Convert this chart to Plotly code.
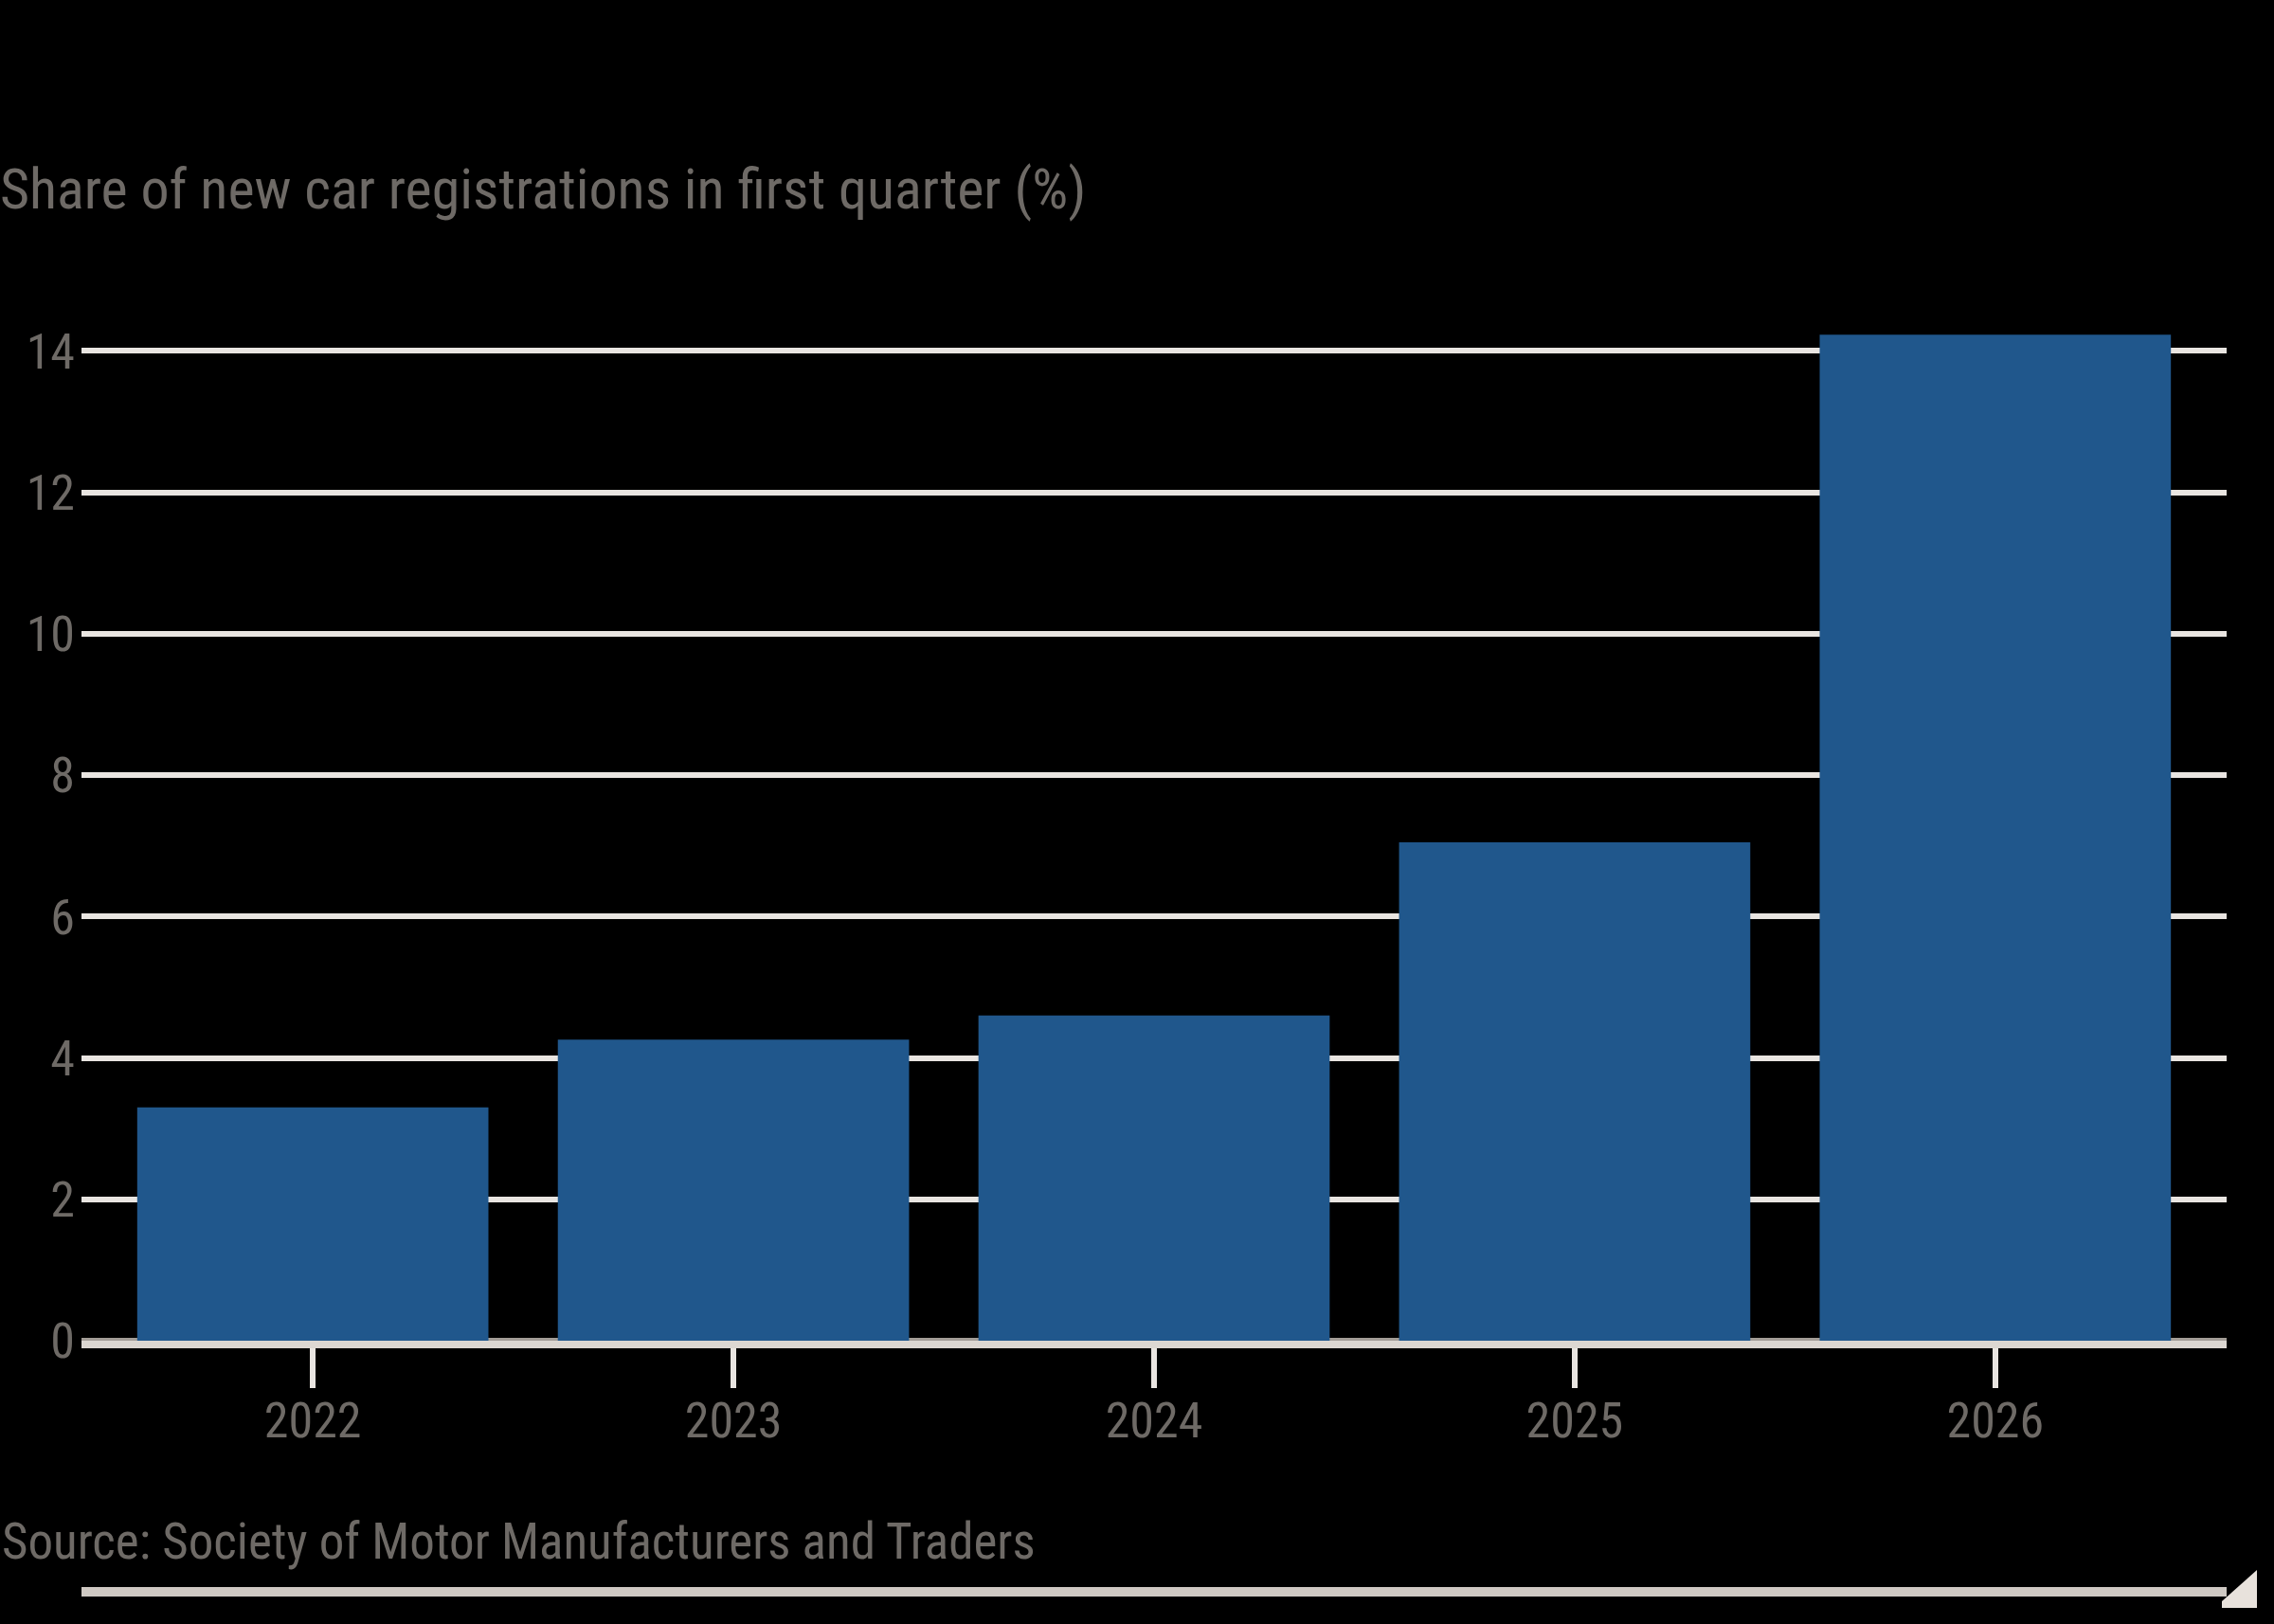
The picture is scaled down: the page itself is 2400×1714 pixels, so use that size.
import plotly.graph_objects as go

years = ["2022", "2023", "2024", "2025", "2026"]
share = [3.3, 4.26, 4.6, 7.05, 14.23]
y_ticks = [0, 2, 4, 6, 8, 10, 12, 14]

title_text = "Share of new car registrations in first quarter (%)"
source_text = "Source: Society of Motor Manufacturers and Traders"

W, H = 2400, 1714
L, R, T, B = 86, 50, 348, 299
pw = W - L - R
ph = H - T - B

FONT = "Liberation Sans Narrow, Arial Narrow, Roboto Condensed, sans-serif"
TXT = "#6e6a66"
GRID = "#e9e5e1"

fig = go.Figure(go.Bar(
    x=years, y=share,
    marker=dict(color="#20578c", line=dict(width=0)),
))

def px_x(p):
    return (p - L) / pw

def px_y(p):
    return (H - B - p) / ph

fig.update_layout(
    width=W, height=H,
    paper_bgcolor="black", plot_bgcolor="black",
    margin=dict(l=L, r=R, t=T, b=B),
    bargap=0.165,
    showlegend=False,
    font=dict(family=FONT, color=TXT, size=52),
    title=dict(text=title_text, x=0, xref="container", xanchor="left",
               y=1 - 199 / H, yref="container", yanchor="middle",
               font=dict(family=FONT, size=60, color=TXT)),
    xaxis=dict(
        type="category", range=[-0.55, 4.55],
        showgrid=False, zeroline=False,
        showline=True, linecolor="#dcd7d2", linewidth=8,
        ticks="outside", ticklen=42, tickwidth=6, tickcolor=GRID,
        ticklabelstandoff=-10,
        tickfont=dict(size=52, color=TXT, family=FONT),
    ),
    yaxis=dict(
        range=[0, 14.3], tickvals=y_ticks,
        showgrid=True, gridcolor=GRID, gridwidth=6,
        zeroline=True, zerolinecolor="#a39d97", zerolinewidth=7,
        ticks="", ticklabelstandoff=6,
        tickfont=dict(size=52, color=TXT, family=FONT),
    ),
    annotations=[dict(
        text=source_text, xref="paper", yref="paper",
        x=px_x(0), y=px_y(1627), xanchor="left", yanchor="middle",
        showarrow=False, font=dict(family=FONT, size=53, color=TXT),
    )],
    shapes=[
        dict(type="line", xref="paper", yref="paper",
             x0=0, x1=1, y0=px_y(1680), y1=px_y(1680),
             line=dict(color="#cfc9c3", width=10)),
        dict(type="path", xref="paper", yref="paper",
             path=f"M {px_x(2345)},{px_y(1690)} L {px_x(2382)},{px_y(1657)} L {px_x(2382)},{px_y(1697)} L {px_x(2345)},{px_y(1697)} Z",
             fillcolor="#e8e2dc", line=dict(width=0)),
    ],
)

fig.write_html(
    "out.html",
    config={"displayModeBar": False},
    post_script="document.body.style.margin='0';document.body.style.background='black';document.documentElement.style.background='black';",
)
